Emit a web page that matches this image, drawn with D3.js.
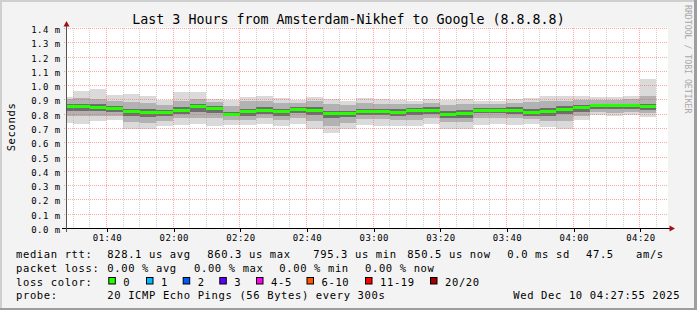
<!DOCTYPE html>
<html><head><meta charset="utf-8">
<script src="https://cdn.jsdelivr.net/npm/d3@7"></script>
<style>
body{margin:0;background:#f3f3f3;}
svg{display:block;font-family:"DejaVu Sans Mono",monospace;}
</style>
</head><body>
<svg id="c" width="697" height="310"></svg>
<script>
// ---------------- data ----------------
const title = "Last 3 Hours from Amsterdam-Nikhef to Google (8.8.8.8)";
const yTitle = "Seconds";
const watermark = "RRDTOOL / TOBI OETIKER";
const day = "2025-12-10";
const rangeStart = "01:28:12";
const rangeEnd = "04:28:12";
const stepMinutes = 5;
const barStarts = ["01:25","01:30","01:35","01:40","01:45","01:50","01:55","02:00","02:05","02:10",
  "02:15","02:20","02:25","02:30","02:35","02:40","02:45","02:50","02:55","03:00",
  "03:05","03:10","03:15","03:20","03:25","03:30","03:35","03:40","03:45","03:50",
  "03:55","04:00","04:05","04:10","04:15","04:20"];
// values in ms
const medianRtt = [0.851,0.851,0.847,0.839,0.819,0.812,0.811,0.827,0.853,0.837,
  0.797,0.816,0.826,0.816,0.831,0.827,0.804,0.804,0.819,0.819,
  0.812,0.825,0.827,0.795,0.803,0.826,0.826,0.826,0.812,0.819,
  0.835,0.844,0.861,0.861,0.858,0.851];
const minRtt = [0.74,0.73,0.752,0.757,0.70,0.70,0.716,0.727,0.734,0.72,
  0.727,0.723,0.732,0.716,0.732,0.70,0.667,0.697,0.727,0.72,
  0.72,0.716,0.732,0.70,0.697,0.727,0.734,0.727,0.734,0.709,
  0.697,0.757,0.797,0.785,0.797,0.779];
const maxRtt = [0.923,0.96,0.974,0.937,0.944,0.93,0.897,0.953,0.953,0.909,
  0.897,0.923,0.93,0.916,0.902,0.923,0.907,0.895,0.914,0.907,
  0.902,0.89,0.907,0.902,0.907,0.89,0.895,0.907,0.914,0.93,
  0.93,0.93,0.918,0.918,0.925,1.049];
const p10Rtt = [0.79,0.785,0.79,0.785,0.745,0.74,0.755,0.77,0.775,0.77,
  0.76,0.76,0.77,0.76,0.77,0.75,0.72,0.74,0.765,0.765,
  0.76,0.76,0.77,0.745,0.745,0.77,0.775,0.77,0.765,0.755,
  0.75,0.785,0.815,0.81,0.815,0.805];
const p25Rtt = [0.825,0.82,0.822,0.815,0.79,0.78,0.785,0.80,0.815,0.805,
  0.785,0.79,0.80,0.79,0.805,0.795,0.77,0.78,0.795,0.795,
  0.79,0.795,0.80,0.775,0.775,0.805,0.805,0.80,0.79,0.79,
  0.80,0.815,0.84,0.835,0.84,0.83];
const p75Rtt = [0.87,0.875,0.87,0.86,0.84,0.835,0.83,0.85,0.87,0.855,
  0.815,0.84,0.85,0.84,0.85,0.85,0.825,0.825,0.84,0.84,
  0.835,0.845,0.85,0.82,0.83,0.845,0.845,0.85,0.84,0.845,
  0.86,0.865,0.875,0.875,0.875,0.875];
const p90Rtt = [0.905,0.915,0.905,0.895,0.885,0.88,0.865,0.895,0.91,0.885,
  0.86,0.89,0.895,0.88,0.88,0.89,0.87,0.865,0.88,0.875,
  0.87,0.87,0.88,0.865,0.875,0.87,0.875,0.88,0.885,0.89,
  0.895,0.9,0.9,0.9,0.905,0.93];
const yTicks = [0,0.1,0.2,0.3,0.4,0.5,0.6,0.7,0.8,0.9,1.0,1.1,1.2,1.3,1.4];
const yMax = 1.4;

const rttRow = ["median rtt:","828.1 us avg","860.3 us max","795.3 us min","850.5 us now","0.0 ms sd","47.5","am/s"];
const lossRow = ["packet loss:","0.00 % avg","0.00 % max","0.00 % min","0.00 % now"];
const lossColorTitle = "loss color:";
const lossLabels = ["0","1","2","3","4-5","6-10","11-19","20/20"];
const lossColors = ["#26ff00","#00b8ff","#0059ff","#5e00ff","#ff00ee","#ff5500","#ff0000","#a00000"];
const probeRow = ["probe:","20 ICMP Echo Pings (56 Bytes) every 300s","Wed Dec 10 04:27:55 2025"];

// ---------------- layout ----------------
const W = 697, H = 310;
const plot = {left:67, right:667, top:28.5, bottom:228.5};
const rttX = [16,107.3,207.3,313.3,407.3,507.3,586,636];
const lossX = [16,107.3,194,279.3,365];
const swatchX = [108.3,146,182.7,219.3,256,306.5,365,430];
const probeX = [16,107.3,513.3];
const rowY = [258.3,271.9,285.5,299.2];
const bandColors = {outer:"#dadada", p10:"#b2b2b2", p25:"#6e6e6e"};

const svg = d3.select("#c");
const parse = d3.timeParse("%Y-%m-%d %H:%M:%S");
const t = s => parse(day + " " + (s.length === 5 ? s + ":00" : s));

const x = d3.scaleTime().domain([t(rangeStart), t(rangeEnd)]).range([plot.left, plot.right]);
const y = d3.scaleLinear().domain([0, yMax]).range([plot.bottom, plot.top]);
const px = v => Math.round(v - 0.5) + 0.5;

// background and frame
svg.append("rect").attr("width",W).attr("height",H).attr("fill","#f3f3f3");
svg.append("rect").attr("x",0).attr("y",0).attr("width",W).attr("height",2).attr("fill","#cfcfcf");
svg.append("rect").attr("x",0).attr("y",0).attr("width",2).attr("height",H).attr("fill","#cfcfcf");
svg.append("rect").attr("x",0).attr("y",H-2).attr("width",W).attr("height",2).attr("fill","#9e9e9e");
svg.append("rect").attr("x",W-3).attr("y",0).attr("width",3).attr("height",H).attr("fill","#9e9e9e");

// canvas
svg.append("rect").attr("x",plot.left).attr("y",plot.top-1).attr("width",plot.right-plot.left+1)
  .attr("height",plot.bottom-plot.top+1).attr("fill","#ffffff");

svg.append("clipPath").attr("id","clip").append("rect")
  .attr("x",plot.left).attr("y",0).attr("width",plot.right-plot.left).attr("height",plot.bottom);

// smoke
const bars = barStarts.map((s,i)=>({
  t0: t(s), t1: d3.timeMinute.offset(t(s), stepMinutes),
  med: medianRtt[i], min: minRtt[i], max: maxRtt[i],
  p10: p10Rtt[i], p90: p90Rtt[i], p25: p25Rtt[i], p75: p75Rtt[i]
}));
const gSmoke = svg.append("g").attr("clip-path","url(#clip)").attr("shape-rendering","crispEdges");
const band = (lo, hi, color) => {
  gSmoke.selectAll(null).data(bars).join("rect")
    .attr("x", d => Math.round(x(d.t0)))
    .attr("width", d => Math.round(x(d.t1)) - Math.round(x(d.t0)))
    .attr("y", d => Math.round(y(d[hi])))
    .attr("height", d => Math.round(y(d[lo])) - Math.round(y(d[hi])))
    .attr("fill", color);
};
band("min","max",bandColors.outer);
band("p10","p90",bandColors.p10);
band("p25","p75",bandColors.p25);

// grid
const gGrid = svg.append("g").attr("shape-rendering","crispEdges");
const minorTicks = d3.timeMinute.every(5).range(x.domain()[0], x.domain()[1]);
const majorTicks = d3.timeMinute.every(20).range(x.domain()[0], x.domain()[1]);
const isMajor = d => d.getMinutes() % 20 === 0;
gGrid.selectAll(null).data(minorTicks.filter(d=>!isMajor(d))).join("line")
  .attr("x1",d=>px(x(d))).attr("x2",d=>px(x(d)))
  .attr("y1",plot.top-0.5).attr("y2",plot.bottom)
  .attr("stroke","#9a9a9a").attr("stroke-opacity",0.45).attr("stroke-dasharray","1,1");
gGrid.selectAll(null).data(majorTicks).join("line")
  .attr("x1",d=>px(x(d))).attr("x2",d=>px(x(d)))
  .attr("y1",plot.top-0.5).attr("y2",plot.bottom)
  .attr("stroke","#ff5050").attr("stroke-opacity",0.5).attr("stroke-dasharray","1,1");
gGrid.selectAll(null).data(yTicks.filter(v=>v>0)).join("line")
  .attr("x1",plot.left-3).attr("x2",plot.right+1)
  .attr("y1",d=>px(y(d))).attr("y2",d=>px(y(d)))
  .attr("stroke","#ff5050").attr("stroke-opacity",0.5).attr("stroke-dasharray","1,1");

// median line
svg.append("g").attr("clip-path","url(#clip)").attr("shape-rendering","crispEdges")
  .selectAll("rect").data(bars).join("rect")
  .attr("x", d => Math.round(x(d.t0)))
  .attr("width", d => Math.round(x(d.t1)) - Math.round(x(d.t0)))
  .attr("y", d => Math.round(y(d.med) - 1.5))
  .attr("height", 3)
  .attr("fill", lossColors[0]);

// axes
const xAxis = d3.axisBottom(x).tickValues(majorTicks).tickFormat(d3.timeFormat("%H:%M"))
  .tickSize(3).tickPadding(3.2);
const gx = svg.append("g").attr("transform",`translate(0,${plot.bottom})`).call(xAxis);
gx.select(".domain").remove();
gx.selectAll(".tick line").attr("stroke","#000").attr("shape-rendering","crispEdges")
  .attr("transform","translate(0.5,0)");
gx.selectAll("text").attr("font-family","DejaVu Sans Mono").attr("font-size",9)
  .attr("letter-spacing",0.45).attr("fill","#000").attr("dx",0.7);

const yAxis = d3.axisLeft(y).tickValues(yTicks).tickFormat(d => d3.format(".1f")(d) + " m")
  .tickSize(0).tickPadding(6.5);
const gy = svg.append("g").attr("transform",`translate(${plot.left},0)`).call(yAxis);
gy.select(".domain").remove();
gy.selectAll("text").attr("font-family","DejaVu Sans Mono").attr("font-size",9)
  .attr("letter-spacing",0.45).attr("fill","#000").attr("dy","0.45em");

// axis lines + arrows
svg.append("line").attr("x1",plot.left-5).attr("x2",plot.right+3).attr("y1",plot.bottom).attr("y2",plot.bottom)
  .attr("stroke","#000").attr("shape-rendering","crispEdges");
svg.append("line").attr("x1",plot.left-0.5).attr("x2",plot.left-0.5).attr("y1",plot.bottom+3).attr("y2",plot.top-4)
  .attr("stroke","#555").attr("shape-rendering","crispEdges");
svg.append("path").attr("d",`M${plot.left-0.5},${plot.top-7.5}L${plot.left-3.5},${plot.top-2}L${plot.left+2.5},${plot.top-2}Z`)
  .attr("fill","#a01010");
svg.append("path").attr("d",`M${plot.right+8},${plot.bottom}L${plot.right+2.5},${plot.bottom-3}L${plot.right+2.5},${plot.bottom+3}Z`)
  .attr("fill","#a01010");

// title
svg.append("text").attr("x",348.5).attr("y",24).attr("text-anchor","middle")
  .attr("font-size",13.3).attr("fill","#000").text(title);
// y title
svg.append("text").attr("transform","translate(15,127) rotate(-90)").attr("text-anchor","middle")
  .attr("font-size",10.5).attr("letter-spacing",0.63).attr("fill","#000").text(yTitle);
// watermark
svg.append("text").attr("transform","translate(684.5,5) rotate(90)")
  .attr("font-size",8.2).attr("fill","#a8a8a8").text(watermark);

// legend
const legendText = (txt, xx, yy) => svg.append("text").attr("x",xx).attr("y",yy)
  .attr("font-size",10.5).attr("letter-spacing",0.63).attr("fill","#000").attr("xml:space","preserve").text(txt);
rttRow.forEach((s,i)=>legendText(s, rttX[i], rowY[0]));
lossRow.forEach((s,i)=>legendText(s, lossX[i], rowY[1]));
legendText(lossColorTitle, 16, rowY[2]);
lossLabels.forEach((s,i)=>{
  svg.append("rect").attr("x",swatchX[i]+0.5).attr("y",rowY[2]-8).attr("width",6.5).attr("height",6.5)
    .attr("fill",lossColors[i]).attr("stroke","#000").attr("stroke-width",1);
  legendText(s, swatchX[i]+15, rowY[2]);
});
probeRow.forEach((s,i)=>legendText(s, probeX[i], rowY[3]));
</script>
</body></html>
